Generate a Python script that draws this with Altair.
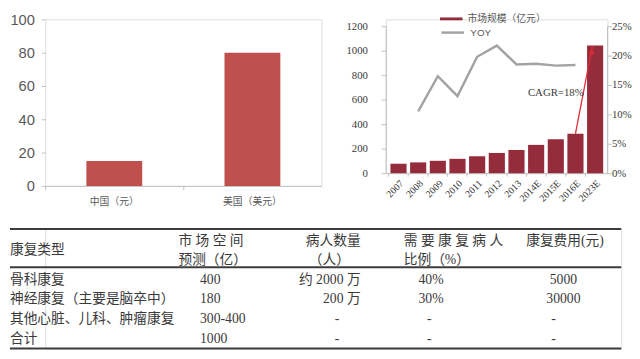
import altair as alt
import pandas as pd

# ---------------- data ----------------
left_categories = ["中国（元）", "美国（美元）"]
left_values = [15, 80]

years = ["2007", "2008", "2009", "2010", "2011", "2012", "2013",
         "2014E", "2015E", "2016E", "2023E"]
market_size = [77, 88, 101, 117, 138, 165, 189, 231, 277, 322, 1043]
yoy_pct = [None, 10.5, 16.5, 13.1, 19.8, 21.7, 18.5, 18.6, 18.3, 18.4, None]
series_names = ["市场规模（亿元）", "YOY"]
cagr_label = "CAGR=18%"
cagr_from = ("2016E", 322)
cagr_to = ("2023E", 1040)
left_ticks = [0, 20, 40, 60, 80, 100]
market_ticks = [0, 200, 400, 600, 800, 1000, 1200]
yoy_ticks = [0, 0.05, 0.10, 0.15, 0.20, 0.25]

table_headers_1 = ["康复类型", "市 场 空 间", "病人数量", "需 要 康 复 病 人", "康复费用(元)"]
table_headers_2 = ["", "预测（亿）", "（人）", "比例（%）", ""]
table_rows = [
    ["骨科康复", "400", "约 2000 万", "40%", "5000"],
    ["神经康复（主要是脑卒中）", "180", "200 万", "30%", "30000"],
    ["其他心脏、儿科、肿瘤康复", "300-400", "-", "-", "-"],
    ["合计", "1000", "-", "-", "-"],
]

# ---------------- styles ----------------
LEFT_RED = "#C0504D"
DARK_RED = "#952C3B"
ARROW_RED = "#E02B35"
LINE_GRAY = "#A3A3A3"
AXIS_GRAY = "#BFBFBF"
LABEL_GRAY = "#595959"
DARK_TEXT = "#3A3A3A"
CJK = "Noto Sans CJK SC"
SANS = "Liberation Sans"
SERIF = "Liberation Serif"
MIXED = "Liberation Serif, Noto Sans CJK SC"

# ---------------- left chart ----------------
left_df = pd.DataFrame({"cat": left_categories, "v": left_values})
left = alt.Chart(left_df).mark_bar(color=LEFT_RED, size=57).encode(
    x=alt.X("cat:N", scale=alt.Scale(domain=left_categories, paddingInner=0, paddingOuter=0),
            axis=alt.Axis(title=None, labelAngle=0, labelFont=CJK, labelFontSize=10,
                          labelColor=LABEL_GRAY, domainColor=AXIS_GRAY, tickColor=AXIS_GRAY,
                          tickSize=4, bandPosition=0, labelPadding=7)),
    y=alt.Y("v:Q", scale=alt.Scale(domain=[0, 100]),
            axis=alt.Axis(title=None, values=left_ticks, grid=False, domain=False,
                          tickColor=AXIS_GRAY, tickSize=4, labelFont=SANS, labelFontSize=15,
                          labelColor=LABEL_GRAY, labelPadding=7)),
).properties(width=282, height=170)

# ---------------- right chart ----------------
R_W, R_H = 226, 157
AXIS_SPAN = 150  # px covered by the tick range (0..1200 / 0..25%)
right_df = pd.DataFrame({
    "year": years,
    "market": market_size,
    "yoy": [v / 100 if v is not None else None for v in yoy_pct],
})
right_df["s_bar"] = series_names[0]
right_df["s_line"] = series_names[1]

x_scale = alt.Scale(domain=years, paddingInner=0, paddingOuter=0.13)
x_axis = alt.Axis(title=None, labelAngle=-45, labelFont=SERIF, labelFontSize=10,
                  labelColor=DARK_TEXT, domainColor=AXIS_GRAY, tickColor=AXIS_GRAY,
                  tickSize=3, bandPosition=0, labelPadding=2)
left_y_scale = alt.Scale(domain=[0, market_ticks[-1] * R_H / AXIS_SPAN], nice=False)
right_y_scale = alt.Scale(domain=[0, yoy_ticks[-1] * R_H / AXIS_SPAN], nice=False)

# legend swatches: wide shapes on a small symbol slot so the legend stays compact
LEG_SIZE = 100
LEG_X = 61.5
bars = alt.Chart(right_df).mark_bar(width={"band": 0.82}).encode(
    x=alt.X("year:N", scale=x_scale, axis=x_axis),
    y=alt.Y("market:Q", scale=left_y_scale,
            axis=alt.Axis(title=None, values=market_ticks, format="d", grid=False, domain=False,
                          tickColor=AXIS_GRAY, tickSize=5,
                          labelFont=SERIF, labelFontSize=11, labelColor=DARK_TEXT,
                          labelPadding=14)),
    fill=alt.Fill("s_bar:N", scale=alt.Scale(range=[DARK_RED]),
                  legend=alt.Legend(orient="none", legendX=LEG_X, legendY=-5.5, title=None,
                                    symbolType="M-2.3,-0.29L2.3,-0.29L2.3,0.29L-2.3,0.29Z",
                                    symbolSize=LEG_SIZE, symbolStrokeWidth=0,
                                    labelFont=CJK, labelFontSize=10, labelColor=LABEL_GRAY,
                                    labelOffset=11.5, padding=0)),
)

line = alt.Chart(right_df).mark_line(strokeWidth=2.5).encode(
    x=alt.X("year:N", scale=x_scale, axis=x_axis, bandPosition=0.5),
    y=alt.Y("yoy:Q", scale=right_y_scale,
            axis=alt.Axis(title=None, orient="right", format=".0%", values=yoy_ticks,
                          grid=False, domain=False, tickColor=AXIS_GRAY, tickSize=4,
                          labelFont=SERIF, labelFontSize=11, labelColor=DARK_TEXT,
                          labelPadding=0)),
    stroke=alt.Stroke("s_line:N", scale=alt.Scale(range=[LINE_GRAY]),
                      legend=alt.Legend(orient="none", legendX=LEG_X, legendY=7, title=None,
                                        symbolType="M-2.3,0L2.3,0", symbolSize=LEG_SIZE,
                                        symbolStrokeWidth=2.5, labelFont=SANS,
                                        labelFontSize=10, labelColor=LABEL_GRAY,
                                        labelOffset=11.5, padding=0)),
)

# vertical axis lines covering only the tick range
axis_df = pd.DataFrame({"y0": [0], "y1": [market_ticks[-1]]})
axis_left = alt.Chart(axis_df).mark_rule(color=AXIS_GRAY, strokeWidth=1).encode(
    x=alt.value(0),
    y=alt.Y("y0:Q", scale=left_y_scale, axis=None), y2="y1:Q",
)
axis_right = alt.Chart(axis_df).mark_rule(color=AXIS_GRAY, strokeWidth=1).encode(
    x=alt.value(R_W),
    y=alt.Y("y0:Q", scale=left_y_scale, axis=None), y2="y1:Q",
)

arrow_df = pd.DataFrame({"x0": [cagr_from[0]], "y0": [cagr_from[1]],
                         "x1": [cagr_to[0]], "y1": [cagr_to[1]],
                         "yh": [cagr_to[1] - 45]})
arrow = alt.Chart(arrow_df).mark_rule(color=ARROW_RED, strokeWidth=1.3).encode(
    x=alt.X("x0:N", scale=x_scale, axis=x_axis, bandPosition=0.5),
    x2=alt.X2("x1:N", bandPosition=0.36),
    y=alt.Y("y0:Q", scale=left_y_scale, axis=None),
    y2="y1:Q",
)
arrow_head = alt.Chart(arrow_df).mark_point(shape="triangle-up", filled=True, size=40,
                                            angle=11, color=ARROW_RED, opacity=1).encode(
    x=alt.X("x1:N", scale=x_scale, axis=x_axis, bandPosition=0.33),
    y=alt.Y("yh:Q", scale=left_y_scale, axis=None),
)

cagr_df = pd.DataFrame({"x": ["2015E"], "y": [656], "t": [cagr_label]})
cagr_text = alt.Chart(cagr_df).mark_text(font=SERIF, fontSize=11, color=DARK_TEXT).encode(
    x=alt.X("x:N", scale=x_scale, axis=x_axis, bandPosition=0.5),
    y=alt.Y("y:Q", scale=left_y_scale, axis=None),
    text="t:N",
)

right = alt.layer(bars, line, axis_left, axis_right, arrow, arrow_head, cagr_text).resolve_scale(
    y="independent", fill="independent", stroke="independent"
).properties(width=R_W, height=R_H)

# ---------------- table ----------------
TABLE_FULL = 624   # full table width in px (left edge = page content edge)
TABLE_OFF = 36     # table origin is aligned with the left chart's plot origin
TABLE_H = 122
HDR_Y1, HDR_MID, HDR_Y2 = 0.6, 1.1, 1.6
ROW_Y0 = 2.6
LINE_YS = [0, 1.95, 6.1]
HDR_X = [0, 172, 302, 402, 527]
HDR2_X = [0, 172, 305, 402, 527]
VAL_X = [0, 194, 358, 417, 565]
VAL_ALIGN = ["left", "left", "right", "left", "center"]
DASH_X = [0, 194, 334, 428, 555]

cells = []
for j, h in enumerate(table_headers_1):
    y = HDR_MID if j == 0 else HDR_Y1
    cells.append({"t": h, "x": HDR_X[j], "y": y, "a": "left"})
for j, h in enumerate(table_headers_2):
    if h:
        cells.append({"t": h, "x": HDR2_X[j], "y": HDR_Y2, "a": "left"})
for i, row in enumerate(table_rows):
    for j, v in enumerate(row):
        if v == "-":
            cells.append({"t": v, "x": DASH_X[j], "y": ROW_Y0 + i, "a": "center"})
        else:
            cells.append({"t": v, "x": VAL_X[j], "y": ROW_Y0 + i, "a": VAL_ALIGN[j]})
cells_df = pd.DataFrame(cells)
lines_df = pd.DataFrame({"y": LINE_YS, "x0": [0] * 3, "x1": [TABLE_FULL] * 3})

tx = alt.Scale(domain=[TABLE_OFF, TABLE_FULL], nice=False, zero=False)
ty = alt.Scale(domain=[0, 6.1], reverse=True, nice=False)

table_lines = alt.Chart(lines_df).mark_rule(color="#3C3C3C", strokeWidth=2).encode(
    x=alt.X("x0:Q", scale=tx, axis=None), x2="x1:Q",
    y=alt.Y("y:Q", scale=ty, axis=None),
)
text_layers = []
for a in ["left", "right", "center"]:
    text_layers.append(
        alt.Chart(cells_df[cells_df["a"] == a]).mark_text(
            align=a, baseline="middle", font=MIXED, fontSize=14, color=DARK_TEXT
        ).encode(
            x=alt.X("x:Q", scale=tx, axis=None),
            y=alt.Y("y:Q", scale=ty, axis=None),
            text="t:N",
        )
    )
table = alt.layer(table_lines, *text_layers).properties(
    width=TABLE_FULL - TABLE_OFF, height=TABLE_H)

# ---------------- compose ----------------
top = alt.hconcat(left, right, spacing=23)
chart = alt.vconcat(top, table, spacing=20).properties(
    padding={"left": 0, "top": 0, "right": 0, "bottom": 0}
).configure_view(stroke=None).configure(background="white")

chart.save("out.html", embed_options={"renderer": "svg", "actions": False})
